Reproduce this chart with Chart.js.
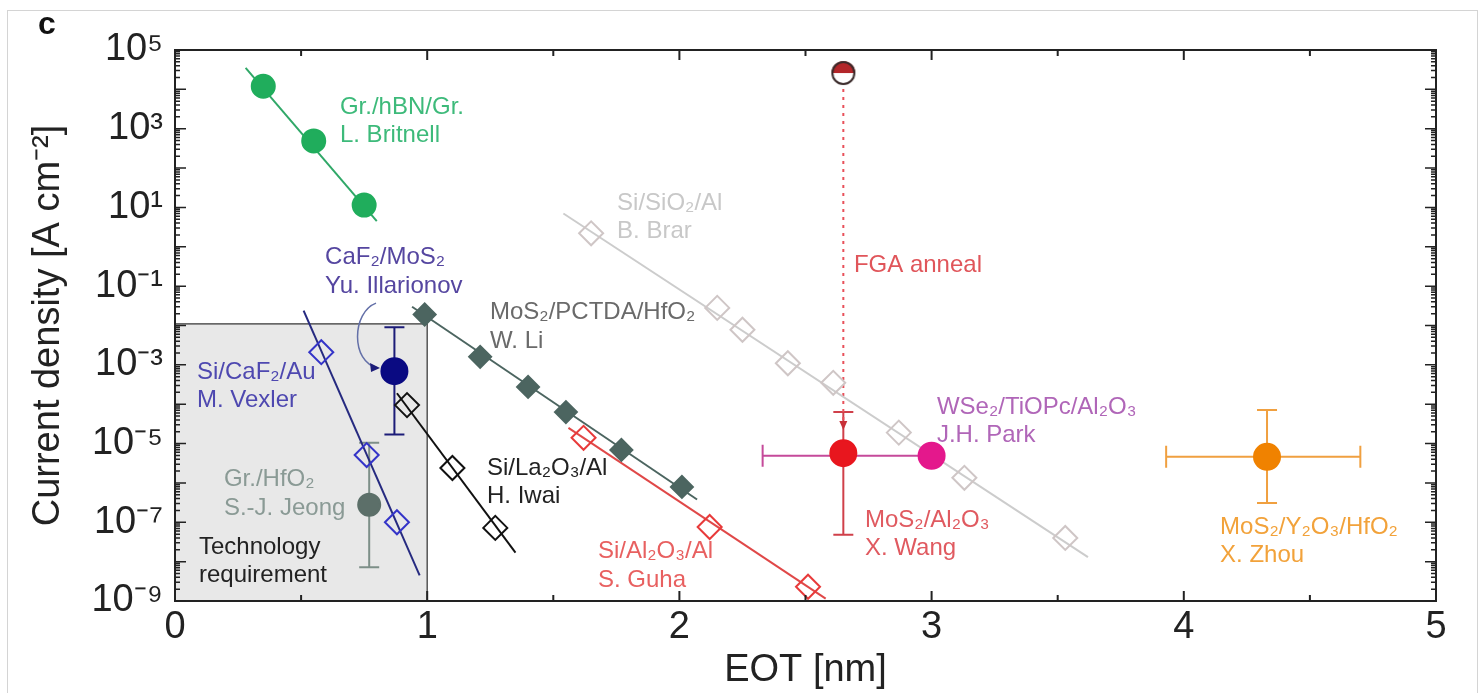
<!DOCTYPE html>
<html>
<head>
<meta charset="utf-8">
<script src="https://cdn.jsdelivr.net/npm/chart.js@4.4.1/dist/chart.umd.min.js"></script>
<style>
	html, body { margin: 0; padding: 0; background: #fff; }
	#wrap { position: relative; width: 1480px; height: 693px; }
	#frame { position: absolute; left: 7px; top: 10px; width: 1471px; height: 690px; border: 1px solid #d4d4d4; box-sizing: border-box; }
	canvas { position: absolute; left: 0; top: 0; }
</style>
</head>
<body>
<div id="wrap">
	<div id="frame"></div>
	<canvas id="chart" width="1480" height="693"></canvas>
</div>
<script>
const FONT = '"Liberation Sans", Arial, sans-serif';

// Gr./hBN/Gr. (L. Britnell)
const britnellX = [0.35, 0.55, 0.75];
const britnellY = [1.2e4, 4.9e2, 1.15e1];
const britnellFitX = [0.28, 0.80];
const britnellFitY = [3.5e4, 4.5];

// Si/CaF2/Au (M. Vexler)
const vexlerX = [0.58, 0.76, 0.88];
const vexlerY = [2.1e-3, 5.1e-6, 1.0e-7];
const vexlerFitX = [0.51, 0.97];
const vexlerFitY = [2.4e-2, 4.5e-9];

// CaF2/MoS2 (Yu. Illarionov)
const illarionovX = [0.87];
const illarionovY = [6.9e-4];
const illarionovErr = [1.7e-5, 9.0e-3];

// Gr./HfO2 (S.-J. Jeong)
const jeongX = [0.77];
const jeongY = [2.8e-7];
const jeongErr = [7.2e-9, 1.05e-5];

// MoS2/PCTDA/HfO2 (W. Li)
const liX = [0.99, 1.21, 1.40, 1.55, 1.77, 2.01];
const liY = [1.9e-2, 1.6e-3, 2.75e-4, 6.3e-5, 6.9e-6, 7.9e-7];
const liFitX = [0.94, 2.07];
const liFitY = [3.0e-2, 3.8e-7];

// Si/La2O3/Al (H. Iwai)
const iwaiX = [0.92, 1.10, 1.27];
const iwaiY = [9.5e-5, 2.4e-6, 7.2e-8];
const iwaiFitX = [0.88, 1.35];
const iwaiFitY = [1.9e-4, 1.7e-8];

// Si/Al2O3/Al (S. Guha)
const guhaX = [1.62, 2.12, 2.51];
const guhaY = [1.4e-5, 7.6e-8, 2.3e-9];
const guhaFitX = [1.56, 2.58];
const guhaFitY = [2.5e-5, 1.15e-9];

// Si/SiO2/Al (B. Brar)
const brarX = [1.65, 2.15, 2.25, 2.43, 2.61, 2.87, 3.13, 3.53];
const brarY = [2.2, 2.8e-2, 7.8e-3, 1.1e-3, 3.5e-4, 1.9e-5, 1.35e-6, 4.0e-8];
const brarFitX = [1.54, 3.62];
const brarFitY = [7.0, 1.3e-8];

// MoS2/Al2O3 (X. Wang), before and after FGA
const wangX = [2.65];
const wangY = [5.7e-6];
const wangErr = [4.8e-8, 6.3e-5];
const fgaX = [2.65];
const fgaY = [2.6e4];
const fgaArrowY = [2.6e4, 2.2e-5];

// WSe2/TiOPc/Al2O3 (J.H. Park)
const parkX = [3.0];
const parkY = [4.9e-6];
const parkXErrLow = [2.33];

// MoS2/Y2O3/HfO2 (X. Zhou)
const zhouX = [4.33];
const zhouY = [4.6e-6];
const zhouXErr = [3.93, 4.70];
const zhouYErr = [3.1e-7, 7.1e-5];

// technology requirement region
const techBoxX = [0, 1];
const techBoxY = [1e-9, 1.1e-2];

const xTicks = [0, 1, 2, 3, 4, 5];
const yDecades = [-9, -8, -7, -6, -5, -4, -3, -2, -1, 0, 1, 2, 3, 4, 5];

// text annotations, anchored at left / middle of first line (data units)
const notes = [
	{ lines: ["Gr./hBN/Gr.", "L. Britnell"], x: 0.654, y: 3550, color: "#3dba7a" },
	{ lines: ["CaF₂/MoS₂", "Yu. Illarionov"], x: 0.595, y: 0.525, color: "#5546a0" },
	{ lines: ["Si/CaF₂/Au", "M. Vexler"], x: 0.087, y: 6.6e-4, color: "#4e48b0" },
	{ lines: ["Gr./HfO₂", "S.-J. Jeong"], x: 0.194, y: 1.2e-6, color: "#8a9a95" },
	{ lines: ["Technology", "requirement"], x: 0.095, y: 2.35e-8, color: "#222222" },
	{ lines: ["MoS₂/PCTDA/HfO₂", "W. Li"], x: 1.249, y: 2.1e-2, color: "#6a6a6a" },
	{ lines: ["Si/SiO₂/Al", "B. Brar"], x: 1.753, y: 12.9, color: "#c8c8c8" },
	{ lines: ["FGA anneal"], x: 2.692, y: 0.347, color: "#e0555a" },
	{ lines: ["Si/La₂O₃/Al", "H. Iwai"], x: 1.237, y: 2.4e-6, color: "#222222" },
	{ lines: ["Si/Al₂O₃/Al", "S. Guha"], x: 1.677, y: 1.78e-8, color: "#e86060" },
	{ lines: ["MoS₂/Al₂O₃", "X. Wang"], x: 2.736, y: 1.15e-7, color: "#e05a60" },
	{ lines: ["WSe₂/TiOPc/Al₂O₃", "J.H. Park"], x: 3.021, y: 8.5e-5, color: "#b066b8" },
	{ lines: ["MoS₂/Y₂O₃/HfO₂", "X. Zhou"], x: 4.144, y: 7.6e-8, color: "#f2a23a" },
];

// curved arrow from the Illarionov label to its point
const curveArrowX = [0.797, 0.702, 0.694, 0.805];
const curveArrowY = [3.7e-2, 2.2e-2, 1.17e-3, 8.3e-4];

const pts = (xs, ys) => xs.map((x, i) => ({ x: x, y: ys[i] }));
const SUP = { "-": "⁻", "0": "⁰", "1": "¹", "2": "²", "3": "³", "4": "⁴", "5": "⁵", "6": "⁶", "7": "⁷", "8": "⁸", "9": "⁹" };
const sup = (n) => String(n).split("").map((c) => SUP[c]).join("");

function halfDot(r) {
	const c = document.createElement("canvas");
	c.width = c.height = 2 * r + 4;
	const g = c.getContext("2d");
	const m = r + 2;
	g.beginPath(); g.arc(m, m, r, 0, Math.PI * 2); g.fillStyle = "#fff"; g.fill();
	g.beginPath(); g.arc(m, m, r, Math.PI, 0); g.closePath(); g.fillStyle = "#b3262a"; g.fill();
	g.beginPath(); g.arc(m, m, r - 1, 0, Math.PI * 2); g.lineWidth = 2; g.strokeStyle = "#3a2a2a"; g.stroke();
	return c;
}

function fit(xs, ys, color) {
	return { data: pts(xs, ys), showLine: true, borderColor: color, borderWidth: 2, pointRadius: 0, order: 3 };
}
function marks(xs, ys, style, r, fill, edge) {
	return {
		data: pts(xs, ys), showLine: false, pointStyle: style, pointRadius: r,
		backgroundColor: fill, borderColor: edge, borderWidth: 2, order: 1,
	};
}

const datasets = [
	fit(britnellFitX, britnellFitY, "#30a868"),
	fit(vexlerFitX, vexlerFitY, "#262a80"),
	fit(liFitX, liFitY, "#4c6560"),
	fit(iwaiFitX, iwaiFitY, "#111111"),
	fit(guhaFitX, guhaFitY, "#e04848"),
	fit(brarFitX, brarFitY, "#cccccc"),
	marks(britnellX, britnellY, "circle", 11.5, "#20ad5c", "#20ad5c"),
	marks(vexlerX, vexlerY, "rectRot", 12, "rgba(0,0,0,0)", "#3434c8"),
	marks(illarionovX, illarionovY, "circle", 13, "#0a0a82", "#0a0a82"),
	marks(jeongX, jeongY, "circle", 11, "#5c6f69", "#5c6f69"),
	marks(liX, liY, "rectRot", 11, "#4c6560", "#4c6560"),
	marks(iwaiX, iwaiY, "rectRot", 12, "rgba(0,0,0,0)", "#111111"),
	marks(guhaX, guhaY, "rectRot", 12, "rgba(0,0,0,0)", "#e83a3a"),
	marks(brarX, brarY, "rectRot", 12, "rgba(0,0,0,0)", "#cfc6c6"),
	marks(wangX, wangY, "circle", 13, "#e8161e", "#e8161e"),
	marks(parkX, parkY, "circle", 13, "#e4188c", "#e4188c"),
	marks(zhouX, zhouY, "circle", 13, "#f08200", "#f08200"),
	{ data: pts(fgaX, fgaY), showLine: false, pointStyle: halfDot(12), pointRadius: 12, order: 1 },
];

function vBar(ctx, xs, ys, x, lo, hi, color) {
	const px = xs.getPixelForValue(x);
	const a = ys.getPixelForValue(lo), b = ys.getPixelForValue(hi);
	ctx.strokeStyle = color; ctx.lineWidth = 2;
	ctx.beginPath();
	ctx.moveTo(px, a); ctx.lineTo(px, b);
	ctx.moveTo(px - 10, a); ctx.lineTo(px + 10, a);
	ctx.moveTo(px - 10, b); ctx.lineTo(px + 10, b);
	ctx.stroke();
}
function hBar(ctx, xs, ys, y, lo, hi, color, capHi) {
	const py = ys.getPixelForValue(y);
	const a = xs.getPixelForValue(lo), b = xs.getPixelForValue(hi);
	ctx.strokeStyle = color; ctx.lineWidth = 2;
	ctx.beginPath();
	ctx.moveTo(a, py); ctx.lineTo(b, py);
	ctx.moveTo(a, py - 11); ctx.lineTo(a, py + 11);
	if (capHi) { ctx.moveTo(b, py - 11); ctx.lineTo(b, py + 11); }
	ctx.stroke();
}

const decor = {
	id: "decor",
	beforeDatasetsDraw(chart) {
		const { ctx, scales: { x, y } } = chart;
		ctx.save();
		// technology requirement box
		const bx0 = x.getPixelForValue(techBoxX[0]), bx1 = x.getPixelForValue(techBoxX[1]);
		const by0 = y.getPixelForValue(techBoxY[0]), by1 = y.getPixelForValue(techBoxY[1]);
		ctx.fillStyle = "#e8e8e8";
		ctx.fillRect(bx0, by1, bx1 - bx0, by0 - by1);
		ctx.strokeStyle = "#555"; ctx.lineWidth = 1.5;
		ctx.strokeRect(bx0, by1, bx1 - bx0, by0 - by1);

		// error bars
		vBar(ctx, x, y, illarionovX[0], illarionovErr[0], illarionovErr[1], "#1c1c78");
		vBar(ctx, x, y, jeongX[0], jeongErr[0], jeongErr[1], "#7d8f88");
		hBar(ctx, x, y, parkY[0], parkXErrLow[0], parkX[0], "#c54a9a", false);
		vBar(ctx, x, y, wangX[0], wangErr[0], wangErr[1], "#d0404a");
		hBar(ctx, x, y, zhouY[0], zhouXErr[0], zhouXErr[1], "#f0a040", true);
		vBar(ctx, x, y, zhouX[0], zhouYErr[0], zhouYErr[1], "#f0a040");

		// FGA dotted arrow
		const fx = x.getPixelForValue(fgaX[0]);
		const f0 = y.getPixelForValue(fgaArrowY[0]), f1 = y.getPixelForValue(fgaArrowY[1]);
		ctx.strokeStyle = "#e8505a"; ctx.lineWidth = 2; ctx.setLineDash([3, 5]);
		ctx.beginPath(); ctx.moveTo(fx, f0); ctx.lineTo(fx, f1 - 6); ctx.stroke();
		ctx.setLineDash([]);
		ctx.fillStyle = "#c83038";
		ctx.beginPath(); ctx.moveTo(fx, f1); ctx.lineTo(fx - 4, f1 - 9); ctx.lineTo(fx + 4, f1 - 9); ctx.closePath(); ctx.fill();

		// curved arrow to Illarionov point
		const c = curveArrowX.map((v, i) => [x.getPixelForValue(v), y.getPixelForValue(curveArrowY[i])]);
		ctx.strokeStyle = "#6470a8"; ctx.lineWidth = 1.5;
		ctx.beginPath(); ctx.moveTo(c[0][0], c[0][1]);
		ctx.bezierCurveTo(c[1][0], c[1][1], c[2][0], c[2][1], c[3][0], c[3][1]);
		ctx.stroke();
		ctx.fillStyle = "#1c1c78";
		ctx.beginPath(); ctx.moveTo(c[3][0] + 2, c[3][1]); ctx.lineTo(c[3][0] - 8, c[3][1] - 5); ctx.lineTo(c[3][0] - 7, c[3][1] + 4); ctx.closePath(); ctx.fill();
		ctx.restore();
	},
	afterDatasetsDraw(chart) {
		const { ctx, chartArea: a, scales: { x, y } } = chart;
		ctx.save();
		// frame
		ctx.strokeStyle = "#222"; ctx.lineWidth = 2;
		ctx.strokeRect(a.left, a.top, a.right - a.left, a.bottom - a.top);
		// inward ticks, x
		ctx.beginPath();
		for (let v = 0; v <= 5.001; v += 0.5) {
			const px = x.getPixelForValue(v);
			const len = Math.abs(v - Math.round(v)) < 0.01 ? 10 : 6;
			ctx.moveTo(px, a.bottom); ctx.lineTo(px, a.bottom - len);
			ctx.moveTo(px, a.top); ctx.lineTo(px, a.top + len);
		}
		ctx.stroke();
		// inward ticks, y (log minors)
		ctx.lineWidth = 1.5;
		ctx.beginPath();
		yDecades.forEach((e) => {
			for (let m = 1; m <= 9; m++) {
				const v = m * Math.pow(10, e);
				if (v > 1.0001e5) break;
				const py = y.getPixelForValue(v);
				const len = m === 1 ? 11 : 5;
				ctx.moveTo(a.left, py); ctx.lineTo(a.left + len, py);
				ctx.moveTo(a.right, py); ctx.lineTo(a.right - len, py);
			}
		});
		ctx.stroke();
		// notes
		ctx.font = "24px " + FONT;
		ctx.textAlign = "left"; ctx.textBaseline = "middle";
		notes.forEach((n) => {
			const px = x.getPixelForValue(n.x), py = y.getPixelForValue(n.y);
			ctx.fillStyle = n.color;
			n.lines.forEach((t, i) => ctx.fillText(t, px, py + i * 28.5));
		});
		// panel letter
		ctx.fillStyle = "#111";
		ctx.font = "bold 32px " + FONT;
		ctx.textBaseline = "alphabetic";
		ctx.fillText("c", 38, 34);
		ctx.restore();
	},
};

new Chart(document.getElementById("chart"), {
	type: "scatter",
	data: { datasets: datasets },
	plugins: [decor],
	options: {
		responsive: false,
		animation: false,
		layout: { padding: { top: 50, right: 44, left: 0, bottom: 0 } },
		plugins: { legend: { display: false }, tooltip: { enabled: false } },
		scales: {
			x: {
				type: "linear", min: 0, max: 5,
				afterFit: (s) => { s.height = 92; },
				afterBuildTicks: (s) => { s.ticks = xTicks.map((v) => ({ value: v })); },
				grid: { display: false, drawTicks: false },
				border: { display: false },
				ticks: { color: "#222", font: { family: FONT, size: 38 }, padding: 4, maxRotation: 0, autoSkip: false },
				title: { display: true, text: "EOT [nm]", color: "#222", font: { family: FONT, size: 38 }, padding: { top: 0, bottom: 0 } },
			},
			y: {
				type: "logarithmic", min: 1e-9, max: 1e5,
				afterFit: (s) => { s.width = 175; },
				afterBuildTicks: (s) => { s.ticks = yDecades.map((e) => ({ value: Math.pow(10, e) })); },
				grid: { display: false, drawTicks: false },
				border: { display: false },
				ticks: {
					color: "#222", font: { family: FONT, size: 38 }, padding: 12, autoSkip: false,
					callback: (v) => {
						const e = Math.round(Math.log10(v));
						return Math.abs(e) % 2 === 1 ? "10" + sup(e) : "";
					},
				},
				title: { display: true, text: "Current density [A cm⁻²]", color: "#222", font: { family: FONT, size: 38 }, padding: { top: 26, bottom: 0 } },
			},
		},
	},
});
</script>
</body>
</html>
